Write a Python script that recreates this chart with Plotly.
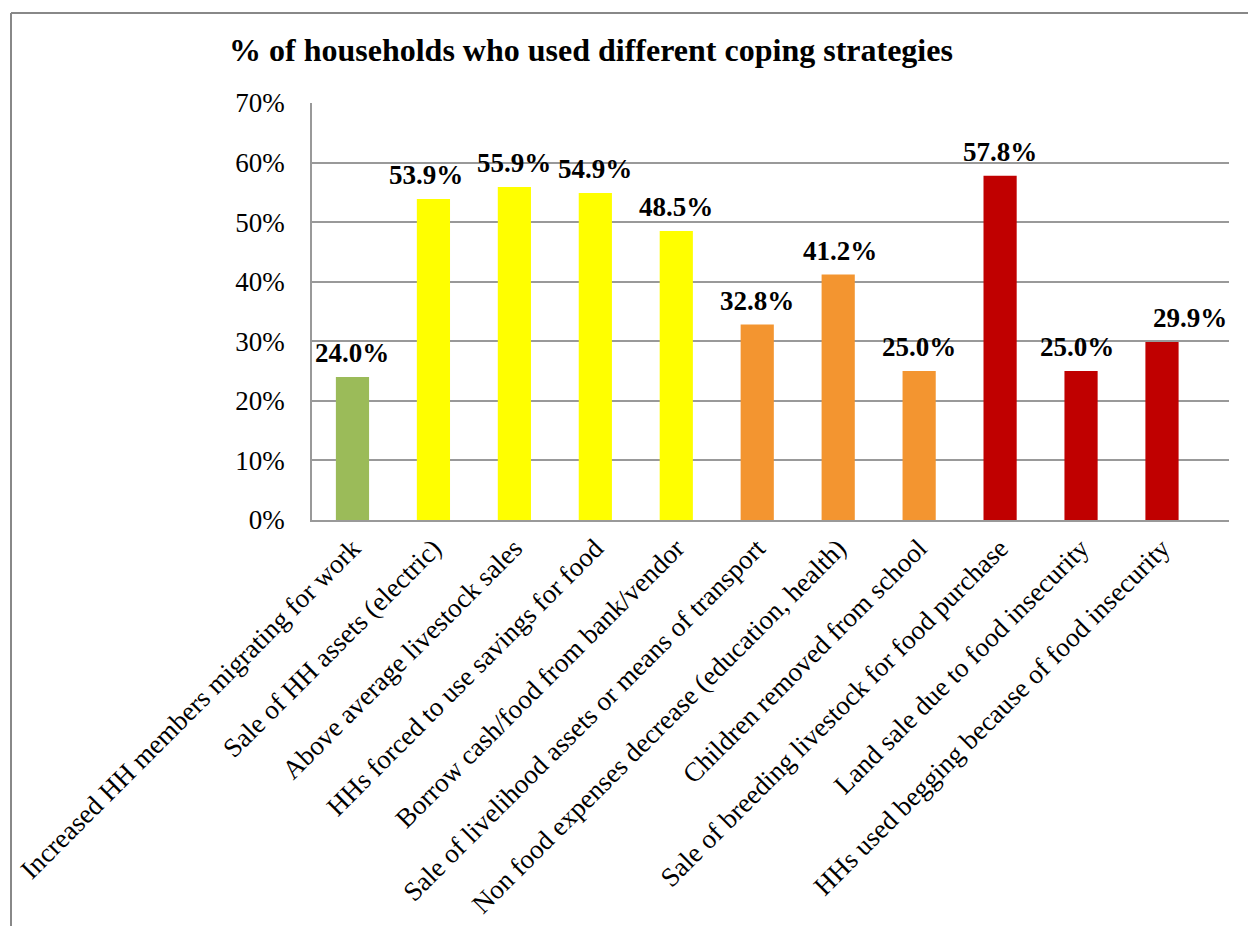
import plotly.graph_objects as go

categories = [
    "Increased HH members migrating for work",
    "Sale of HH assets (electric)",
    "Above average livestock sales",
    "HHs forced to use savings for food",
    "Borrow cash/food from bank/vendor",
    "Sale of livelihood assets or means of transport",
    "Non food expenses decrease (education, health)",
    "Children removed from school",
    "Sale of breeding livestock for food purchase",
    "Land sale due to food insecurity",
    "HHs used begging because of food insecurity",
]
values = [24.0, 53.9, 55.9, 54.9, 48.5, 32.8, 41.2, 25.0, 57.8, 25.0, 29.9]
colors = ["#9BBB59", "#FFFF00", "#FFFF00", "#FFFF00", "#FFFF00",
          "#F39530", "#F39530", "#F39530", "#C00000", "#C00000", "#C00000"]
label_xshift = [0, -7, 0, 0, 0, 0, 2, 0, 0, -4, 28]
yticks = [0, 10, 20, 30, 40, 50, 60, 70]

FONT = "Liberation Serif, Times New Roman, serif"

FW, FH = 1248, 926

fig = go.Figure(go.Bar(
    x=categories, y=values, marker=dict(color=colors, line=dict(width=0)),
    hoverinfo="x+y",
))

for c, v, xs in zip(categories, values, label_xshift):
    fig.add_annotation(x=c, y=v, text=f"{v:.1f}%", showarrow=False,
                       yanchor="bottom", yshift=7, xshift=xs,
                       font=dict(family=FONT, size=27, color="black", weight="bold"))

L, T, W, H = 312, 103, 917, 417
def px(x): return (x - L) / W
def py(y): return (T + H - y) / H
fig.add_shape(type="line", xref="paper", yref="paper", x0=px(11), x1=px(1260),
              y0=py(13), y1=py(13), line=dict(color="#888888", width=2))
fig.add_shape(type="line", xref="paper", yref="paper", x0=px(11), x1=px(11),
              y0=py(13), y1=py(940), line=dict(color="#888888", width=2))

fig.update_layout(
    width=FW, height=FH,
    margin=dict(l=L, r=FW - L - W, t=T, b=FH - T - H, autoexpand=False),
    paper_bgcolor="white", plot_bgcolor="white",
    bargap=0.59,
    showlegend=False,
    title=dict(text="<b>% of households who used different coping strategies</b>",
               x=229 / FW, xanchor="left", y=1 - 50 / FH, yanchor="middle",
               font=dict(family=FONT, size=32, color="black")),
    font=dict(family=FONT, color="black"),
)
fig.update_yaxes(range=[0, 70], tickvals=yticks, ticktext=[f"{t}%" for t in yticks],
                 showgrid=True, gridcolor="#999999", gridwidth=1.5,
                 showline=True, linecolor="#999999", linewidth=1.5,
                 ticks="", tickfont=dict(family=FONT, size=27, color="black"),
                 ticklabelstandoff=20, zeroline=False, automargin=False)
fig.update_xaxes(tickangle=-45, tickfont=dict(family=FONT, size=27, color="black"),
                 showline=True, linecolor="#999999", linewidth=1.5, ticks="",
                 mirror=False, automargin=False)

fig.write_html("out.html", config={"displayModeBar": False},
               post_script="document.body.style.margin='0';document.body.style.overflow='hidden';")
